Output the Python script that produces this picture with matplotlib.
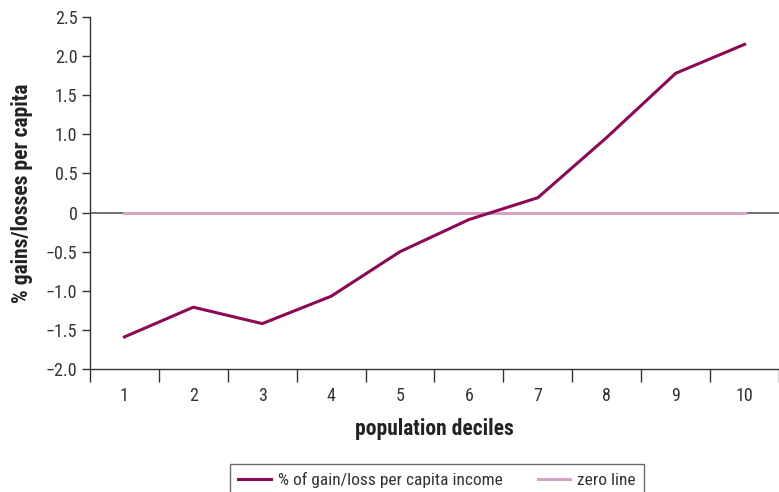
import numpy as np
import matplotlib.pyplot as plt

plt.rcParams['font.family'] = ['Roboto Condensed', 'DejaVu Sans']

deciles = [1, 2, 3, 4, 5, 6, 7, 8, 9, 10]
gain_loss = [-1.59, -1.21, -1.42, -1.07, -0.50, -0.09, 0.19, 0.96, 1.78, 2.15]
zero_line = [0, 0, 0, 0, 0, 0, 0, 0, 0, 0]
yticks = [-2.0, -1.5, -1.0, -0.5, 0, 0.5, 1.0, 1.5, 2.0, 2.5]
ytick_labels = ['\u22122.0', '\u22121.5', '\u22121.0', '\u22120.5', '0',
                '0.5', '1.0', '1.5', '2.0', '2.5']

C_MAIN = '#8a0a55'
C_ZERO = '#d6a3c4'
C_AX = '#333333'

fig = plt.figure(figsize=(7.79, 4.92), dpi=100)
ax = fig.add_axes([0.1155, 0.25, 0.8845, 0.7155])

ax.axhline(0, color='#555555', lw=1.2, zorder=1)
ax.plot(deciles, zero_line, color=C_ZERO, lw=2.2, zorder=2,
        label='zero line')
ax.plot(deciles, gain_loss, color=C_MAIN, lw=2.2, zorder=3,
        label='% of gain/loss per capita income')

ax.set_xlim(0.5, 10.5)
ax.set_ylim(-2.0, 2.5)
ax.set_yticks(yticks)
ax.set_yticklabels(ytick_labels)
ax.set_xticks(deciles)
ax.set_xticklabels([str(d) for d in deciles])
ax.set_xticks(np.arange(0.5, 11, 1), minor=True)
ax.tick_params(axis='x', which='major', length=0, pad=13, labelsize=13,
               colors=C_AX)
ax.tick_params(axis='x', which='minor', length=9, width=1, color=C_AX)
ax.tick_params(axis='y', length=6, width=1, color=C_AX, labelsize=13,
               labelcolor=C_AX, pad=3)

for s in ['top', 'right']:
    ax.spines[s].set_visible(False)
for s in ['left', 'bottom']:
    ax.spines[s].set_color(C_AX)
    ax.spines[s].set_linewidth(1)

ax.set_xlabel('population deciles', fontsize=15.5, fontweight='bold',
              color='#222222', labelpad=9)
ax.set_ylabel('% gains/losses per capita', fontsize=15.5, fontweight='bold',
              color='#222222', labelpad=9)

h, l = ax.get_legend_handles_labels()
leg = fig.legend(h[::-1], l[::-1], loc='upper center', ncol=2,
                 bbox_to_anchor=(0.561, 0.075), frameon=True,
                 fancybox=False, edgecolor='#444444', fontsize=12.5,
                 handlelength=1.9, handletextpad=0.4, columnspacing=2.0,
                 borderpad=0.45)
leg.get_frame().set_linewidth(1)
for t in leg.get_texts():
    t.set_color(C_AX)

fig.savefig('out.png', dpi=100)
